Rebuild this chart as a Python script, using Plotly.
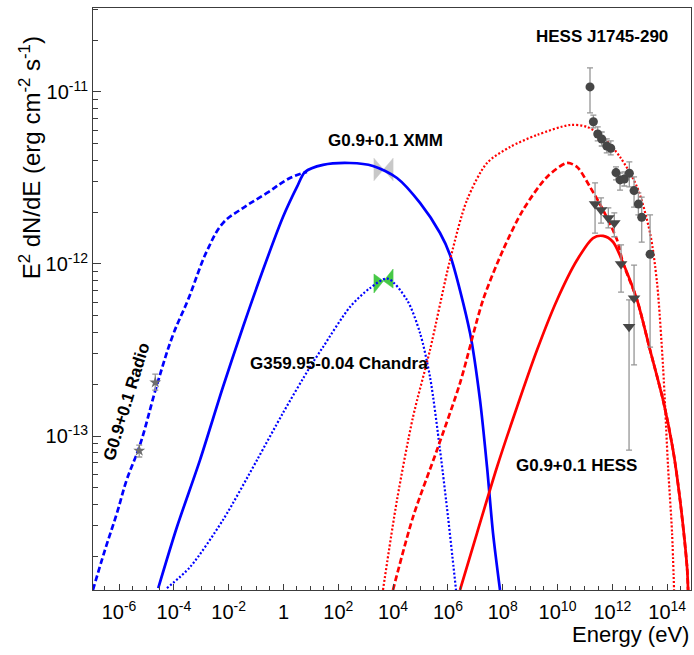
import numpy as np
import plotly.graph_objects as go

# ---------------- data ----------------
# model curves, stored as log10(E/eV) and log10(E^2 dN/dE / erg cm^-2 s^-1)
sync_radio_logE = [-6.953, -6.515, -6.077, -5.723, -5.237, -4.617, -4.033, -3.485,
                   -2.792, -2.208, -1.588, -0.602, 0.237, 0.858]
sync_radio_logF = [-13.895, -13.663, -13.448, -13.256, -13.052, -12.703, -12.413, -12.209,
                   -11.924, -11.762, -11.686, -11.587, -11.500, -11.465]

sync_xmm_logE = [-4.569, -3.887, -3.047, -2.208, -1.478, -0.748, -0.018, 0.493, 0.785,
                 1.442, 2.427, 3.266, 4.142, 4.982, 5.712, 6.077, 6.807, 7.172, 7.427,
                 7.646, 7.901]
sync_xmm_logF = [-13.884, -13.529, -13.140, -12.715, -12.366, -12.035, -11.727, -11.552,
                 -11.465, -11.424, -11.413, -11.430, -11.500, -11.645, -11.820, -11.948,
                 -12.401, -12.791, -13.180, -13.564, -13.895]

sync_chandra_logE = [-4.252, -3.412, -2.208, -0.967, -0.018, 0.967, 1.442, 2.427, 3.157,
                     3.800, 4.507, 4.982, 5.347, 5.712, 6.004, 6.296]
sync_chandra_logF = [-13.884, -13.762, -13.488, -13.140, -12.866, -12.599, -12.483, -12.250,
                     -12.140, -12.085, -12.209, -12.401, -12.657, -13.081, -13.471, -13.895]

ic_j1745_logE = [3.631, 4.142, 4.726, 5.347, 6.077, 6.697, 7.427, 8.266, 9.252, 10.456,
                 11.077, 11.661, 12.281, 12.901, 13.376, 13.631, 13.850, 14.033, 14.179, 14.252]
ic_j1745_logF = [-13.895, -13.372, -12.890, -12.500, -11.977, -11.628, -11.413, -11.320,
                 -11.250, -11.192, -11.203, -11.262, -11.378, -11.552, -11.820, -12.110,
                 -12.599, -13.180, -13.564, -13.895]

ic_dashed_logE = [3.996, 4.726, 5.602, 6.442, 7.281, 8.011, 8.741, 9.617, 10.347, 10.712,
                  11.186, 11.661, 12.172, 12.391, 12.901, 13.376, 13.850, 14.215, 14.471,
                  14.726, 14.763]
ic_dashed_logF = [-13.895, -13.471, -13.081, -12.692, -12.209, -11.919, -11.686, -11.494,
                  -11.413, -11.436, -11.552, -11.686, -11.860, -11.994, -12.209, -12.500,
                  -12.791, -13.081, -13.372, -13.762, -13.895]

ic_hess_logE = [6.442, 7.062, 7.792, 8.522, 9.252, 9.982, 10.712, 11.296, 11.661, 12.026,
                12.391, 12.901, 13.376, 13.850, 14.215, 14.471, 14.726, 14.763]
ic_hess_logF = [-13.895, -13.564, -13.180, -12.831, -12.500, -12.209, -11.977, -11.849,
                -11.837, -11.872, -11.994, -12.209, -12.500, -12.791, -13.081, -13.372,
                -13.762, -13.895]

# HESS J1745-290 spectral points (eV, erg cm^-2 s^-1)
j1745_E = [1.53e11, 2.03e11, 2.93e11, 4.10e11, 6.25e11, 8.75e11, 1.36e12, 1.91e12,
           2.74e12, 4.17e12, 6.20e12, 8.90e12, 1.18e13, 2.38e13]
j1745_F = [1.07e-11, 6.71e-12, 5.70e-12, 5.33e-12, 4.85e-12, 4.71e-12, 3.40e-12, 3.08e-12,
           3.12e-12, 3.37e-12, 2.67e-12, 2.23e-12, 1.87e-12, 1.14e-12]
j1745_F_hi = [1.38e-11, 7.34e-12, 6.27e-12, 5.85e-12, 5.33e-12, 5.19e-12, 3.67e-12, 3.38e-12,
              3.43e-12, 3.92e-12, 3.21e-12, 2.59e-12, 2.45e-12, 1.93e-12]
j1745_F_lo = [7.55e-12, 6.18e-12, 5.19e-12, 4.85e-12, 4.42e-12, 4.31e-12, 3.08e-12, 2.69e-12,
              2.84e-12, 2.81e-12, 2.14e-12, 1.93e-12, 1.34e-12, 3.29e-13]

# G0.9+0.1 HESS spectral points
g09_E = [2.34e11, 3.87e11, 7.15e11, 1.18e12, 2.08e12, 4.07e12, 6.20e12]
g09_F = [2.23e-12, 2.06e-12, 1.85e-12, 1.73e-12, 1.00e-12, 4.31e-13, 6.32e-13]
g09_F_hi = [2.96e-12, 2.42e-12, 2.12e-12, 1.98e-12, 1.29e-12, 6.18e-13, 9.86e-13]
g09_F_lo = [1.51e-12, 1.73e-12, 1.62e-12, 1.44e-12, 6.87e-13, 8.29e-14, 2.59e-13]

# G0.9+0.1 radio points
radio_E = [5.46e-6, 2.10e-5]
radio_F = [8.22e-14, 2.05e-13]
radio_F_hi = [8.86e-14, 2.29e-13]
radio_F_lo = [7.55e-14, 1.85e-13]

# X-ray butterflies (2-10 keV)
xmm_E = [2.0e3, 4.47e3, 1.0e4]                 # low edge, pivot, high edge
xmm_F_left = [4.12e-12, 3.05e-12]              # upper, lower at low edge
xmm_F_pivot = 3.54e-12
xmm_F_right = [4.12e-12, 3.05e-12]             # upper, lower at high edge

chandra_E = [2.0e3, 4.47e3, 1.0e4]
chandra_F_left = [8.75e-13, 6.78e-13]
chandra_F_pivot = 7.96e-13
chandra_F_right = [9.35e-13, 7.24e-13]

# tick labels
x_tick_exps = list(range(-6, 15, 2))
x_tick_labels = ["10<sup>-6</sup>", "10<sup>-4</sup>", "10<sup>-2</sup>", "1",
                 "10<sup>2</sup>", "10<sup>4</sup>", "10<sup>6</sup>", "10<sup>8</sup>",
                 "10<sup>10</sup>", "10<sup>12</sup>", "10<sup>14</sup>"]
y_tick_exps = [-13, -12, -11]
y_tick_labels = ["10<sup>-13</sup>", "10<sup>-12</sup>", "10<sup>-11</sup>"]

# ---------------- figure ----------------
BLUE = "rgb(0,0,255)"
RED = "rgb(255,0,0)"
FONT = "Liberation Sans, Arial, Helvetica, sans-serif"
AXC = "rgb(60,60,60)"

fig = go.Figure()


def bowtie(E, Fl, Fp, Fr, color):
    xs = [E[0], E[1], E[2], E[2], E[1], E[0], E[0]]
    ys = [Fl[0], Fp, Fr[0], Fr[1], Fp, Fl[1], Fl[0]]
    fig.add_trace(go.Scatter(x=xs, y=ys, mode="lines", fill="toself",
                             fillcolor=color, line=dict(width=0.5, color=color),
                             hoverinfo="skip"))


bowtie(xmm_E, xmm_F_left, xmm_F_pivot, xmm_F_right, "rgb(200,200,200)")
bowtie(chandra_E, chandra_F_left, chandra_F_pivot, chandra_F_right, "rgb(70,200,70)")


def curve(logE, logF, color, dash, width, smoothing=0.8):
    fig.add_trace(go.Scatter(x=10 ** np.array(logE), y=10 ** np.array(logF),
                             mode="lines", line=dict(color=color, dash=dash, width=width,
                                                     shape="spline", smoothing=smoothing)))


curve(sync_radio_logE, sync_radio_logF, BLUE, "6px,3px", 2.7, 1.1)
curve(sync_chandra_logE, sync_chandra_logF, BLUE, "2px,2px", 2.2)
curve(sync_xmm_logE, sync_xmm_logF, BLUE, "solid", 2.7)
curve(ic_j1745_logE, ic_j1745_logF, RED, "2px,2px", 2.2)
curve(ic_dashed_logE, ic_dashed_logF, RED, "6px,3px", 2.7)
curve(ic_hess_logE, ic_hess_logF, RED, "solid", 2.7)


def points(E, F, hi, lo, symbol, color, size):
    F = np.array(F)
    fig.add_trace(go.Scatter(
        x=E, y=F, mode="markers",
        marker=dict(symbol=symbol, color=color, size=size, line=dict(width=0)),
        error_y=dict(type="data", symmetric=False, array=np.array(hi) - F,
                     arrayminus=F - np.array(lo), color="rgb(150,150,150)",
                     thickness=1.3, width=3)))


points(j1745_E, j1745_F, j1745_F_hi, j1745_F_lo, "circle", "rgb(70,70,70)", 9)
points(g09_E, g09_F, g09_F_hi, g09_F_lo, "triangle-down", "rgb(70,70,70)", 11)
points(radio_E, radio_F, radio_F_hi, radio_F_lo, "star", "rgb(110,110,110)", 9)

# ticks
x_major = [10.0 ** e for e in x_tick_exps]
x_minor = ([10.0 ** e for e in range(-7, 15) if e not in x_tick_exps] +
           [3 * 10.0 ** e for e in range(-7, 15)])
y_major = [10.0 ** e for e in y_tick_exps]
y_minor = [m * 10.0 ** e for e in range(-14, -10) for m in range(2, 10)]

fig.update_xaxes(type="log", range=[-6.95, 14.87], showline=True, mirror=True,
                 linecolor=AXC, linewidth=1, showgrid=False, zeroline=False,
                 ticks="inside", ticklen=6, tickcolor=AXC,
                 tickvals=x_major, ticktext=x_tick_labels, ticklabelstandoff=4,
                 tickfont=dict(family=FONT, size=20, color="black"),
                 minor=dict(tickvals=x_minor, ticks="inside", ticklen=4,
                            tickcolor=AXC, showgrid=False))
fig.update_yaxes(type="log", range=[-13.895, -10.512], showline=True, mirror=True,
                 linecolor=AXC, linewidth=1, showgrid=False, zeroline=False,
                 ticks="inside", ticklen=8, tickcolor=AXC,
                 tickvals=y_major, ticktext=y_tick_labels, ticklabelstandoff=0,
                 tickfont=dict(family=FONT, size=20, color="black"),
                 minor=dict(tickvals=y_minor, ticks="inside", ticklen=5,
                            tickcolor=AXC, showgrid=False))

annots = [
    dict(x=11.62, y=-10.680, text="<b>HESS J1745-290</b>"),
    dict(x=3.74, y=-11.285, text="<b>G0.9+0.1 XMM</b>"),
    dict(x=2.026, y=-12.576, text="<b>G359.95-0.04 Chandra</b>"),
    dict(x=10.675, y=-13.174, text="<b>G0.9+0.1 HESS</b>"),
    dict(x=-5.71, y=-12.802, text="<b>G0.9+0.1 Radio</b>", textangle=-73),
]
for a in annots:
    fig.add_annotation(xref="x", yref="y", showarrow=False,
                       font=dict(family=FONT, size=17, color="black"), **a)

fig.add_annotation(xref="paper", yref="paper", x=1.0, y=-0.077, xanchor="right",
                   yanchor="middle", showarrow=False, text="Energy (eV)",
                   font=dict(family=FONT, size=22, color="black"))
fig.add_annotation(xref="paper", yref="paper", x=-0.105, y=0.742, xanchor="center",
                   yanchor="middle", showarrow=False, textangle=-90,
                   text="E<sup>2</sup> dN/dE (erg cm<sup>-2</sup> s<sup>-1</sup>)",
                   font=dict(family=FONT, size=24, color="black"))

fig.update_layout(width=694, height=655, margin=dict(l=93, r=3, t=8, b=65),
                  paper_bgcolor="white", plot_bgcolor="white", showlegend=False)

fig.write_html("out.html", config={"displayModeBar": False},
               post_script="document.body.style.margin='0px';"
                           "document.body.style.overflow='hidden';")
